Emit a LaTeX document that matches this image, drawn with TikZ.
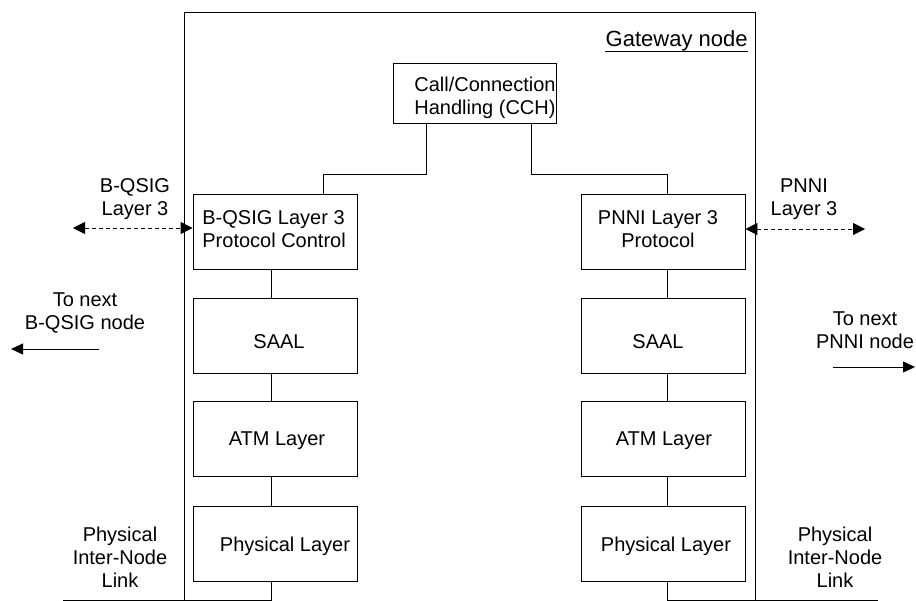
\documentclass[tikz,border=0pt]{standalone}
\usepackage{fontspec}
\setmainfont{Liberation Sans}
\usetikzlibrary{arrows.meta}
\begin{document}
\begin{tikzpicture}[x=1pt,y=-1pt,
  line width=0.8pt,
  every node/.style={font=\fontsize{20}{23}\selectfont, inner sep=0pt},
  layerbox/.style={draw, minimum width=164pt, minimum height=75pt},
  txt/.style={anchor=base, align=center},
  tip/.style={-{Triangle[length=12pt,width=11pt]}},
  dtip/.style={{Triangle[length=12pt,width=12pt]}-{Triangle[length=12pt,width=12pt]}, dash pattern=on 4pt off 3pt}
]
\useasboundingbox (0,0) rectangle (916,601);

% gateway frame (open at the bottom)
\coordinate (gwBL) at (184,601);
\coordinate (gwTR) at (755,12);
\coordinate (gwBR) at (755,601);
\draw (gwBL) |- (gwTR) -- (gwBR);
\node[anchor=base east, font=\fontsize{22}{26}\selectfont] (gwt) at (748,47) {Gateway node};
\draw ([yshift=-4pt]gwt.base west) -- ([yshift=-4pt]gwt.base east);

% call/connection handling (multi-line nodes sit on their last baseline)
\node[draw, minimum width=163pt, minimum height=60pt] (cch) at (474.5,93) {};
\node[anchor=base west, align=left] at (414,114.5) {Call/Connection\\Handling (CCH)};

% B-QSIG side stack
\node[layerbox] (bq3)   at (275,231.5) {};
\node[layerbox] (bsaal) at (275,335.5) {};
\node[layerbox] (batm)  at (275,439) {};
\node[layerbox] (bphy)  at (275,544) {};
\node[anchor=base west, align=left] at (202,248) {B-QSIG Layer 3\\Protocol Control};
\node[txt] at (279,349) {SAAL};
\node[txt] at (277,446) {ATM Layer};
\node[txt] at (285,551) {Physical Layer};

% PNNI side stack
\node[layerbox] (pl3)   at (663,231.5) {};
\node[layerbox] (psaal) at (663,335.5) {};
\node[layerbox] (patm)  at (663,439) {};
\node[layerbox] (pphy)  at (663,544) {};
\node[txt] at (658,248) {PNNI Layer 3\\Protocol};
\node[txt] at (658,349) {SAAL};
\node[txt] at (664,446) {ATM Layer};
\node[txt] at (666,551) {Physical Layer};

% vertical links inside each stack
\coordinate (lx) at (271,0);
\coordinate (rx) at (667,0);
\draw (bq3.south -| lx) -- (bsaal.north -| lx);
\draw (bsaal.south -| lx) -- (batm.north -| lx);
\draw (batm.south -| lx) -- (bphy.north -| lx);
\draw (pl3.south -| rx) -- (psaal.north -| rx);
\draw (psaal.south -| rx) -- (patm.north -| rx);
\draw (patm.south -| rx) -- (pphy.north -| rx);

% CCH to both layer 3 entities
\coordinate (cl) at (426,174);
\coordinate (bl) at (323,174);
\coordinate (cr) at (531,174);
\coordinate (br) at (667,174);
\draw (cch.south -| cl) -- (cl) -- (bl) -- (bl |- bq3.north);
\draw (cch.south -| cr) -- (cr) -- (br) -- (br |- pl3.north);

% physical inter-node links
\coordinate (linkL) at (63,600);
\coordinate (linkR) at (878,600);
\draw (bphy.south -| lx) -- (lx |- linkL) -- (linkL);
\draw (pphy.south -| rx) -- (rx |- linkR) -- (linkR);

% layer 3 peer signalling
\coordinate (qL) at (73,228);
\coordinate (qR) at (865,229);
\draw[dtip] (qL) -- (qL -| bq3.west);
\draw[dtip] (qR -| pl3.east) -- (qR);

% towards neighbouring nodes
\coordinate (nbL1) at (99,349);
\coordinate (nbL2) at (11,349);
\coordinate (nbR1) at (833,367);
\coordinate (nbR2) at (915,367);
\draw[tip] (nbL1) -- (nbL2);
\draw[tip] (nbR1) -- (nbR2);

% outside labels
\node[txt] at (135,216) {B-QSIG\\Layer 3};
\node[txt] at (85,330) {To next\\B-QSIG node};
\node[txt] at (804,216) {PNNI\\Layer 3};
\node[txt] at (865,349) {To next\\PNNI node};
\node[txt] at (120,587) {Physical\\Inter-Node\\Link};
\node[txt] at (835,587) {Physical\\Inter-Node\\Link};
\end{tikzpicture}
\end{document}
